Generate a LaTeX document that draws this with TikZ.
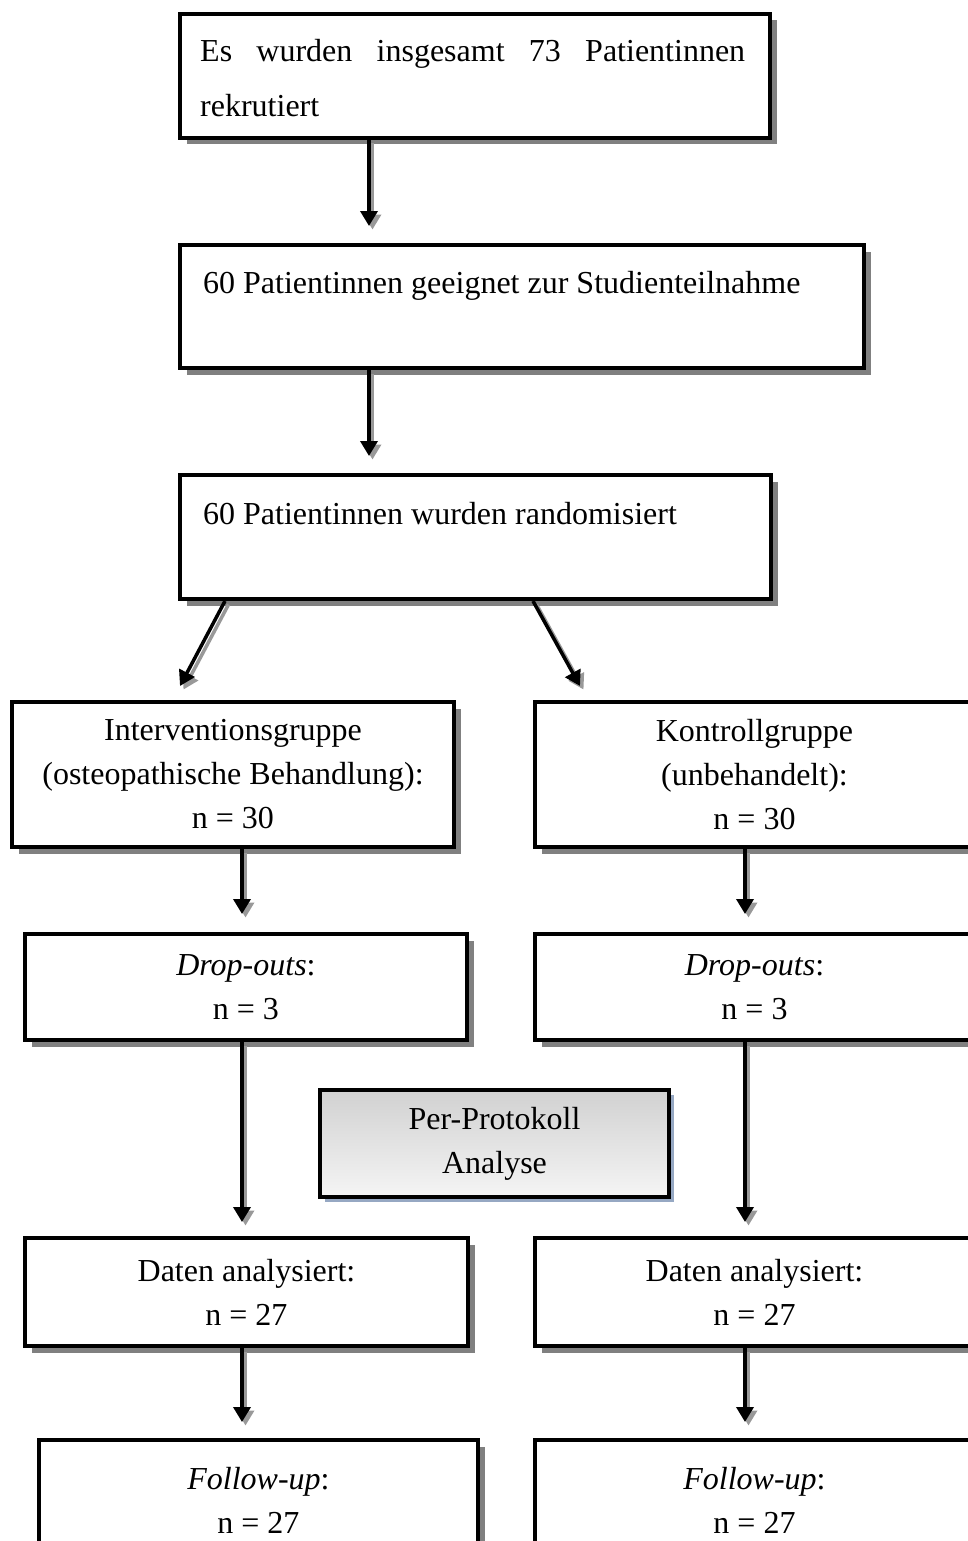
\documentclass[tikz,border=0pt]{standalone}
\usepackage{fontspec}
\setmainfont{Liberation Serif}
\usetikzlibrary{arrows.meta,shadows,calc}
\begin{document}
\begin{tikzpicture}[x=1pt,y=-1pt,
  box/.style={draw=black, line width=4pt, fill=white, inner sep=0pt, anchor=north west,
    drop shadow={shadow xshift=6.5pt, shadow yshift=-6.5pt, fill=black!50, opacity=1}},
  ctext/.style={align=center, font=\fontsize{32}{44}\selectfont},
  ltext/.style={anchor=base west, inner sep=0pt, font=\fontsize{32}{55}\selectfont},
  ppbox/.style={draw=black, line width=4pt, inner sep=0pt, anchor=north west,
    top color=black!18, bottom color=black!4, align=center, font=\fontsize{32}{44}\selectfont,
    drop shadow={shadow xshift=4.5pt, shadow yshift=-4.5pt, fill={rgb,255:red,150;green,168;blue,195}, opacity=1}},
  arr/.style={line width=3.5pt, -{Triangle[length=15pt,width=17pt]}},
  arrsh/.style={arr, draw=black!40, transform canvas={shift={(3.5pt,-3.5pt)}}}
]
\useasboundingbox (0,0) rectangle (968,1541);

% top boxes
\node[box, minimum width=590, minimum height=124] (b1) at (178,12) {};
\node[ltext, text width=545, align=justify] (t1) at (200,62) {Es wurden insgesamt 73 Patientinnen\linebreak rekrutiert};
\node[box, minimum width=684, minimum height=123] (b2) at (178,243) {};
\node[ltext] (t2) at (203,293) {60 Patientinnen geeignet zur Studienteilnahme};
\node[box, minimum width=591, minimum height=124] (b3) at (178,473) {};
\node[ltext] (t3) at (203,524) {60 Patientinnen wurden randomisiert};

% groups
\node[box, ctext, minimum width=442, minimum height=145] (ig) at (10,700) {Interventionsgruppe\\(osteopathische Behandlung):\\n = 30};
\node[box, ctext, minimum width=439, minimum height=145] (kg) at (533,700) {Kontrollgruppe\\(unbehandelt):\\n = 30};

\node[box, ctext, minimum width=442, minimum height=106] (do) at (23,932) {\textit{Drop-outs}:\\n = 3};
\node[box, ctext, minimum width=439, minimum height=106] (dk) at (533,932) {\textit{Drop-outs}:\\n = 3};

\node[ppbox, minimum width=349, minimum height=107] (pp) at (318,1088) {Per-Protokoll\\Analyse};

\node[box, ctext, minimum width=443, minimum height=108] (da) at (23,1236) {Daten analysiert:\\n = 27};
\node[box, ctext, minimum width=439, minimum height=108] (dak) at (533,1236) {Daten analysiert:\\n = 27};

\node[box, ctext, minimum width=439, minimum height=120] (fa) at (37,1438) {\textit{Follow-up}:\\n = 27};
\node[box, ctext, minimum width=439, minimum height=120] (fk) at (533,1438) {\textit{Follow-up}:\\n = 27};

% arrows: shadows first
\foreach \s in {arrsh,arr}{
  \draw[\s] ($(b1.south west)+(191,0)$) -- ($(b2.north west)+(191,-17)$);
  \draw[\s] ($(b2.south west)+(191,0)$) -- ($(b3.north west)+(191,-17)$);
  \draw[\s] ($(b3.south west)+(47,0)$) -- ($(ig.north west)+(170,-14)$);
  \draw[\s] ($(b3.south west)+(355,0)$) -- ($(kg.north west)+(47,-14)$);
  \draw[\s] ($(ig.south west)+(232,0)$) -- ($(do.north west)+(219,-18)$);
  \draw[\s] ($(kg.south west)+(212,0)$) -- ($(dk.north west)+(212,-18)$);
  \draw[\s] ($(do.south west)+(219,0)$) -- ($(da.north west)+(219,-14)$);
  \draw[\s] ($(dk.south west)+(212,0)$) -- ($(dak.north west)+(212,-14)$);
  \draw[\s] ($(da.south west)+(219,0)$) -- ($(fa.north west)+(205,-16)$);
  \draw[\s] ($(dak.south west)+(212,0)$) -- ($(fk.north west)+(212,-16)$);
}
\end{tikzpicture}
\end{document}
